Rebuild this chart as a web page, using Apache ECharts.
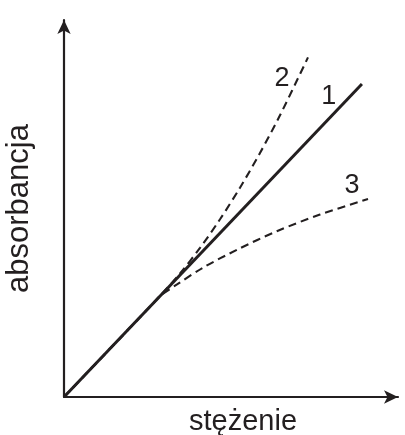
<!DOCTYPE html>
<html>
<head>
<meta charset="utf-8">
<script src="https://cdn.jsdelivr.net/npm/echarts@6/dist/echarts.min.js"></script>
<style>
html,body{margin:0;padding:0;background:#fff;}
#c{width:405px;height:435px;}
</style>
</head>
<body>
<div id="c"></div>
<script>
// Axis titles
const xTitle = 'stężenie';
const yTitle = 'absorbancja';

// Curve 1: linear (Beer's law)
const line1X = [0, 8.92];
const line1Y = [0, 8.30];

// Curve 2: positive deviation
const curve2X = [0, 2.6, 2.874, 3.473, 4.072, 4.671, 5.269, 5.868, 6.467, 7.305];
const curve2Y = [0, 2.419, 2.679, 3.276, 3.955, 4.714, 5.552, 6.472, 7.472, 9.008];

// Curve 3: negative deviation
const curve3X = [0, 2.6, 2.874, 3.383, 4.162, 5.21, 6.407, 7.665, 9.102];
const curve3Y = [0, 2.419, 2.679, 2.985, 3.430, 3.920, 4.410, 4.840, 5.252];

// Curve number labels (positions in data units)
const labelText = ['1', '2', '3'];
const labelX = [7.93, 6.53, 8.62];
const labelY = [7.96, 8.44, 5.60];

const ink = '#231f20';
const zip = (xs, ys) => xs.map((x, i) => [x, ys[i]]);

const chart = echarts.init(document.getElementById('c'));
chart.setOption({
  animation: false,
  backgroundColor: '#fff',
  grid: { left: 64, right: 7, top: 20, bottom: 38, outerBoundsMode: 'none', containLabel: false },
  xAxis: {
    type: 'value', min: 0, max: 10,
    name: xTitle, nameLocation: 'middle', nameGap: 10,
    nameTextStyle: { fontFamily: 'Liberation Sans', fontSize: 29, color: ink, padding: [0, 0, 0, 24] },
    axisLine: { show: true, symbol: ['none', 'arrow'], symbolSize: [10, 14], lineStyle: { color: ink, width: 2.2 } },
    axisTick: { show: false }, axisLabel: { show: false }, splitLine: { show: false }
  },
  yAxis: {
    type: 'value', min: 0, max: 10,
    name: yTitle, nameLocation: 'middle', nameGap: 19, nameRotate: 90,
    nameTextStyle: { fontFamily: 'Liberation Sans', fontSize: 31, color: ink, padding: [0, 0, 10, 0] },
    axisLine: { show: true, symbol: ['none', 'arrow'], symbolSize: [10, 14], lineStyle: { color: ink, width: 2.2 } },
    axisTick: { show: false }, axisLabel: { show: false }, splitLine: { show: false }
  },
  series: [
    {
      type: 'line', data: zip(curve2X, curve2Y), smooth: 0.3, showSymbol: false, z: 2,
      lineStyle: { color: ink, width: 2.1, type: [8, 5] }
    },
    {
      type: 'line', data: zip(curve3X, curve3Y), smooth: 0.3, showSymbol: false, z: 2,
      lineStyle: { color: ink, width: 2.1, type: [8, 5] }
    },
    {
      type: 'line', data: zip(line1X, line1Y), showSymbol: false, z: 3,
      lineStyle: { color: ink, width: 3 }
    },
    {
      type: 'scatter', symbolSize: 1, z: 4,
      itemStyle: { opacity: 0 },
      data: labelText.map((t, i) => ({ value: [labelX[i], labelY[i]], name: t })),
      label: { show: true, position: 'inside', formatter: p => p.name, fontFamily: 'Liberation Sans', fontSize: 27, color: ink, opacity: 1, textBorderWidth: 0 }
    }
  ]
});
</script>
</body>
</html>
